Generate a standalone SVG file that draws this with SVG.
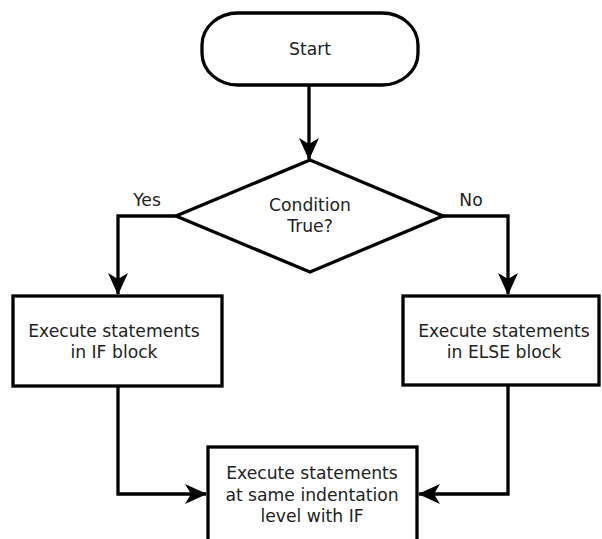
<svg xmlns="http://www.w3.org/2000/svg" width="602" height="539" viewBox="0 0 602 539">
  <style>
    .shape { fill: #ffffff; stroke: #000000; stroke-width: 3.3; }
    .conn { fill: none; stroke: #000000; stroke-width: 3.3; }
    .label { font-family: "DejaVu Sans", sans-serif; font-size: 17.2px; fill: #222222; text-anchor: middle; }
  </style>
  <defs>
    <marker id="arrow" viewBox="-24 -12 26 24" refX="0" refY="0" markerWidth="26" markerHeight="24" markerUnits="userSpaceOnUse" orient="auto">
      <path d="M1,0 L-21,-10 L-15,0 L-21,10 z" fill="#000000"/>
    </marker>
  </defs>

  <g id="connectors">
    <path class="conn" d="M309,85 V159" marker-end="url(#arrow)"/>
    <path class="conn" d="M176,216 H118 V294" marker-end="url(#arrow)"/>
    <path class="conn" d="M443,216 H508 V294" marker-end="url(#arrow)"/>
    <path class="conn" d="M118,386 V494 H206" marker-end="url(#arrow)"/>
    <path class="conn" d="M508,385 V494 H419" marker-end="url(#arrow)"/>
  </g>

  <g id="start">
    <rect class="shape" x="202" y="13" width="216" height="72" rx="36" ry="32"/>
    <text class="label" x="310" y="55">Start</text>
  </g>

  <g id="condition">
    <polygon class="shape" points="310,160 443,216 310,272 176,216"/>
    <text class="label" x="310" y="211">Condition</text>
    <text class="label" x="310" y="232">True?</text>
  </g>

  <g id="yes-label">
    <text class="label" x="147" y="206">Yes</text>
  </g>
  <g id="no-label">
    <text class="label" x="471" y="206">No</text>
  </g>

  <g id="if-block">
    <rect class="shape" x="13" y="296" width="209" height="90"/>
    <text class="label" x="114" y="337">Execute statements</text>
    <text class="label" x="114" y="358">in IF block</text>
  </g>

  <g id="else-block">
    <rect class="shape" x="403" y="296" width="196" height="89"/>
    <text class="label" x="504" y="337">Execute statements</text>
    <text class="label" x="504" y="358">in ELSE block</text>
  </g>

  <g id="after-block">
    <rect class="shape" x="208" y="447" width="209" height="100"/>
    <text class="label" x="312" y="479">Execute statements</text>
    <text class="label" x="312" y="501">at same indentation</text>
    <text class="label" x="312" y="522">level with IF</text>
  </g>
</svg>
